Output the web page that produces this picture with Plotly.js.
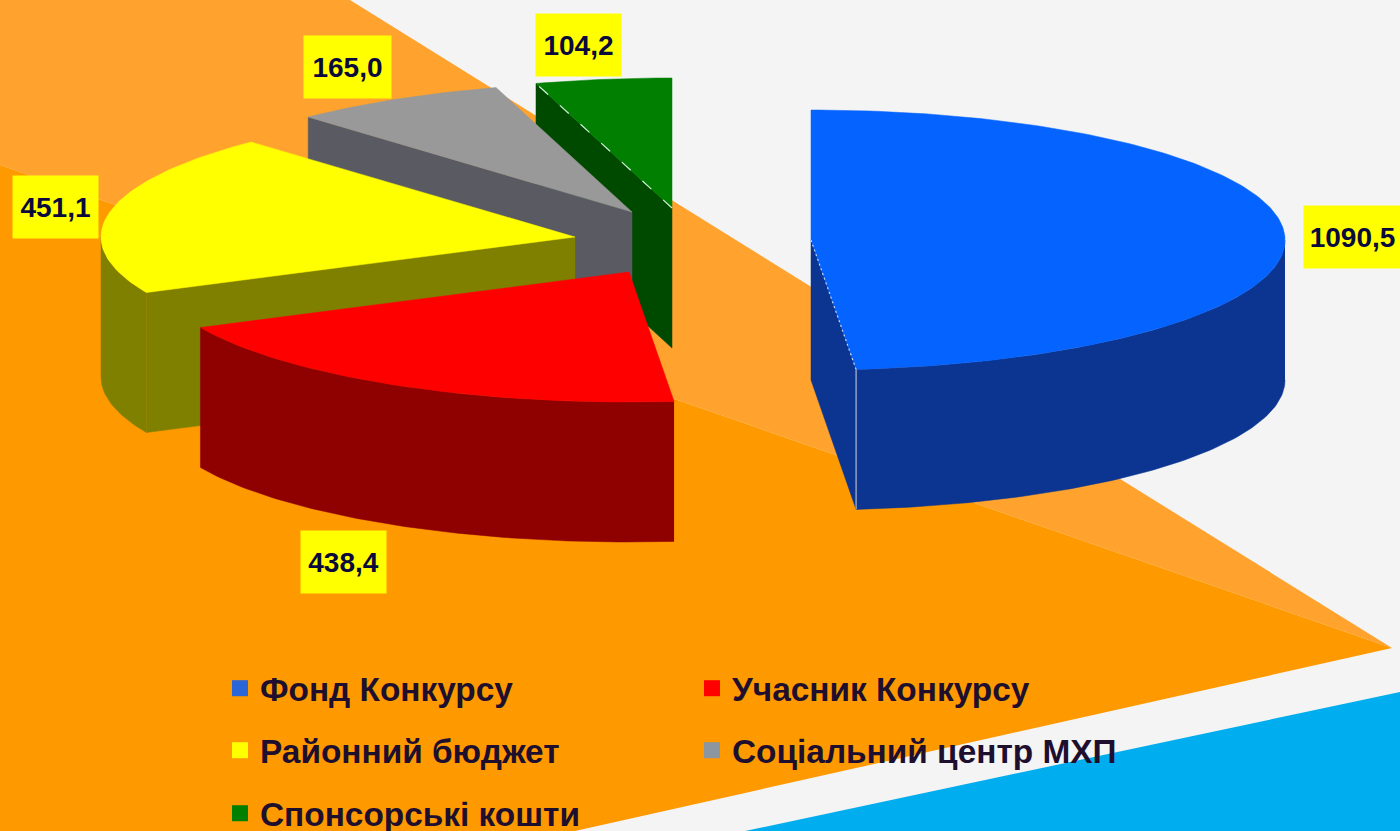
<!DOCTYPE html>
<html>
<head>
<meta charset="utf-8">
<script src="https://cdn.plot.ly/plotly-3.0.1.min.js"></script>
<style>html,body{margin:0;padding:0;background:#F4F4F4;overflow:hidden}#chart{width:1400px;height:831px}</style>
</head>
<body>
<div id="chart"></div>
<script>
// Data
const categories = ["Фонд Конкурсу", "Учасник Конкурсу", "Районний бюджет", "Соціальний центр МХП", "Спонсорські кошти"];
const values = [1090.5, 438.4, 451.1, 165.0, 104.2];

// Styles
const topColors  = ["#0563FF", "#FF0000", "#FFFF00", "#999999", "#007F00"];
const wallColors = ["#0B3590", "#8F0000", "#808000", "#5A5A62", "#004A00"];
const swatchColors = ["#2A66D8", "#FF0000", "#FFFF00", "#8C96A0", "#007F00"];

// Exploded-pie projection (axis units equal pixels)
const RX = 474, RY = 130, DEPTH = 140;
const centers = [[811, 240], [629, 272], [575, 237], [632, 212], [672, 208]];
const labelCenters = [[1352, 237], [343, 562], [55, 207], [347, 67], [578, 45]];
const labelWidths = [97, 85, 85, 87, 85];
const legendSpots = [[220, 660], [692, 660], [220, 722], [692, 722], [220, 785]];

const total = values.reduce((a, b) => a + b, 0);
const rad = d => d * Math.PI / 180;
const px = (c, a) => c[0] + RX * Math.sin(rad(a));
const py = (c, a) => c[1] - RY * Math.cos(rad(a));

function arc(c, a0, a1, dz) {
  const xs = [], ys = [], n = Math.max(2, Math.ceil(Math.abs(a1 - a0)));
  for (let i = 0; i <= n; i++) {
    const a = a0 + (a1 - a0) * i / n;
    xs.push(px(c, a)); ys.push(py(c, a) + dz);
  }
  return [xs, ys];
}
function poly(xs, ys, color) {
  return {type: "scatter", mode: "lines", x: xs, y: ys, fill: "toself", fillcolor: color,
          line: {color: color, width: 0.5}, hoverinfo: "skip", showlegend: false};
}
function radialWall(c, a, color) {
  const x = px(c, a), y = py(c, a);
  return poly([c[0], x, x, c[0], c[0]], [c[1], y, y + DEPTH, c[1] + DEPTH, c[1]], color);
}
function edgeLine(xs, ys, color, dash) {
  return {type: "scatter", mode: "lines", x: xs, y: ys, line: {color: color, width: 1.2, dash: dash},
          hoverinfo: "skip", showlegend: false};
}

// Slice angles from the values, clockwise from 12 o'clock
const starts = [], ends = [];
let running = 0;
values.forEach(v => { starts.push(running); running += v / total * 360; ends.push(running); });

const traces = [];
[4, 3, 2, 1, 0].forEach(i => {
  const c = centers[i], a0 = starts[i], a1 = ends[i];
  if (Math.cos(rad(a0 - 90)) < -1e-6) traces.push(radialWall(c, a0, wallColors[i]));
  if (Math.cos(rad(a1 + 90)) < -1e-6) traces.push(radialWall(c, a1, wallColors[i]));
  const r0 = Math.max(a0, 90), r1 = Math.min(a1, 270);
  if (r1 > r0) {
    const t = arc(c, r0, r1, 0), b = arc(c, r1, r0, DEPTH);
    traces.push(poly(t[0].concat(b[0]), t[1].concat(b[1]), wallColors[i]));
  }
  const top = arc(c, a0, a1, 0);
  traces.push(poly([c[0]].concat(top[0], [c[0]]), [c[1]].concat(top[1], [c[1]]), topColors[i]));
});
// Highlight edges
traces.push(edgeLine([centers[4][0], px(centers[4], starts[4])], [centers[4][1], py(centers[4], starts[4])], "#CFEFD8", "12px,16px"));
traces.push(edgeLine([centers[0][0], px(centers[0], ends[0])], [centers[0][1], py(centers[0], ends[0])], "#C8D8F0", "2px,3px"));
traces.push(edgeLine([px(centers[0], ends[0]), px(centers[0], ends[0])], [py(centers[0], ends[0]), py(centers[0], ends[0]) + DEPTH], "#B4BAD0", "solid"));

// Legend entries
const legendNames = ["legend", "legend2", "legend3", "legend4", "legend5"];
categories.forEach((name, i) => {
  traces.push({type: "scatter", mode: "markers", x: [null], y: [null], name: name, legend: legendNames[i],
               marker: {symbol: "square", size: 16, color: swatchColors[i]}, hoverinfo: "skip", showlegend: true});
});

const W = 1400, H = 831;
const pf = (pts) => "M" + pts.map(p => (p[0] / W) + "," + (1 - p[1] / H)).join("L") + "Z";
const layout = {
  width: W, height: H, margin: {l: 0, r: 0, t: 0, b: 0, autoexpand: false},
  paper_bgcolor: "#F4F4F4", plot_bgcolor: "rgba(0,0,0,0)",
  xaxis: {range: [0, W], visible: false, fixedrange: true},
  yaxis: {range: [H, 0], visible: false, fixedrange: true},
  shapes: [
    {type: "path", xref: "paper", yref: "paper", layer: "below", line: {width: 0}, fillcolor: "#FFA32E",
     path: pf([[0, 0], [350, 0], [1392, 648], [0, 165]])},
    {type: "path", xref: "paper", yref: "paper", layer: "below", line: {width: 0}, fillcolor: "#FF9900",
     path: pf([[0, 165], [1392, 648], [575, 831], [0, 831]])},
    {type: "path", xref: "paper", yref: "paper", layer: "below", line: {width: 0}, fillcolor: "#00ADEF",
     path: pf([[745, 831], [1400, 692], [1400, 831]])}
  ],
  annotations: values.map((v, i) => ({
    x: labelCenters[i][0], y: labelCenters[i][1], xref: "x", yref: "y", showarrow: false,
    text: v.toFixed(1).replace(".", ","), width: labelWidths[i], height: 62, borderpad: 0, bgcolor: "#FFFF00", align: "center", valign: "middle",
    font: {family: "Liberation Sans, Arial, sans-serif", size: 28, color: "#0A0A3C", weight: "bold"},
    xanchor: "center", yanchor: "middle"
  })),
  showlegend: true
};
legendNames.forEach((n, i) => {
  layout[n] = {x: legendSpots[i][0] / W, y: 1 - legendSpots[i][1] / H, xanchor: "left", yanchor: "top",
    bgcolor: "rgba(0,0,0,0)", borderwidth: 0, itemclick: false, itemdoubleclick: false,
    font: {family: "Liberation Sans, Arial, sans-serif", size: 33.4, color: "#1E0F2E", weight: "bold"}};
});
Plotly.newPlot("chart", traces, layout, {displayModeBar: false, responsive: false});
</script>
</body>
</html>
